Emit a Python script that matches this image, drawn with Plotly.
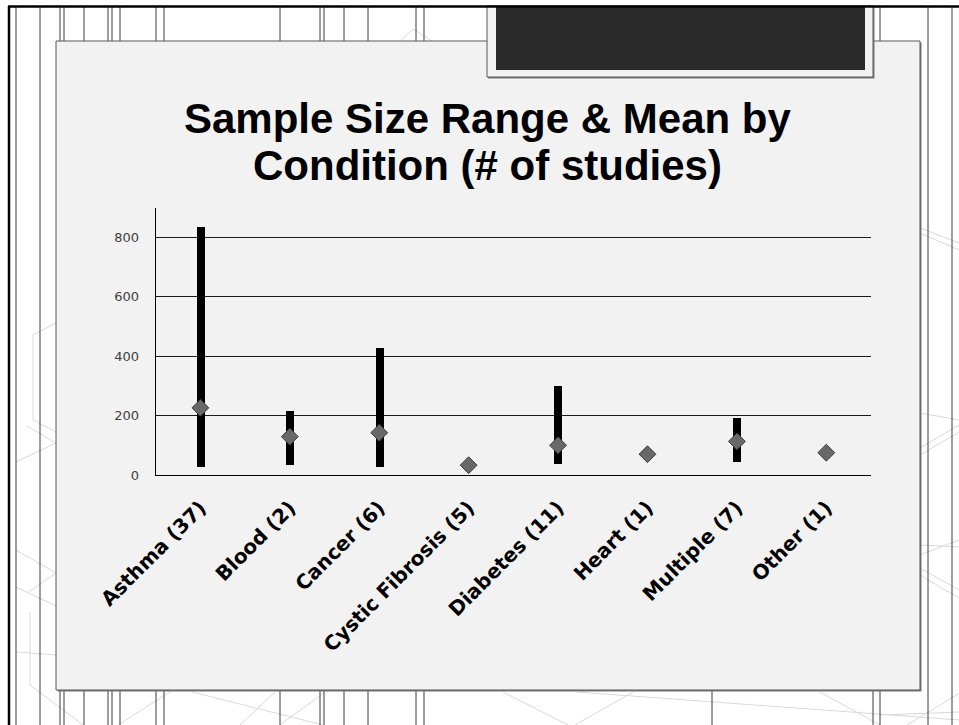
import plotly.graph_objects as go

# ---- data -------------------------------------------------------------
categories = ["Asthma (37)", "Blood (2)", "Cancer (6)", "Cystic Fibrosis (5)",
              "Diabetes (11)", "Heart (1)", "Multiple (7)", "Other (1)"]
range_min = [29, 37, 29, None, 38, None, 46, None]
range_max = [835, 218, 429, None, 303, None, 195, None]
mean_size = [227, 130, 143, 34, 101, 71, 114, 76]
y_ticks = [0, 200, 400, 600, 800]

# ---- page geometry (pixels -> paper fractions) ------------------------
W, H = 959, 725


def fx(px):
    return px / W


def fy(py):
    return 1 - py / H


def line(x0, y0, x1, y1, color, width=1):
    return dict(type="line", xref="paper", yref="paper", layer="below",
                x0=fx(x0), y0=fy(y0), x1=fx(x1), y1=fy(y1),
                line=dict(color=color, width=width))


def rect(x0, y0, x1, y1, fill, edge=None, width=1):
    return dict(type="rect", xref="paper", yref="paper", layer="below",
                x0=fx(x0), y0=fy(y0), x1=fx(x1), y1=fy(y1),
                fillcolor=fill,
                line=dict(color=edge or fill, width=width if edge else 0))


shapes = []

# faint decorative strokes of the slide background
faint = [
    (56, 323, 33, 335), (33, 335, 33, 420), (33, 420, 56, 432),
    (16, 462, 56, 443), (27, 426, 56, 443), (16, 550, 56, 573),
    (27, 593, 56, 573), (16, 587, 56, 606), (16, 652, 56, 655),
    (30, 612, 30, 685), (30, 685, 83, 725), (118, 725, 173, 690),
    (192, 692, 323, 725), (240, 725, 277, 690), (280, 725, 325, 692),
    (503, 692, 568, 725), (575, 725, 633, 692), (577, 692, 960, 720),
    (820, 692, 880, 725), (907, 725, 960, 693),
    (920, 228, 959, 243), (920, 233, 959, 250), (920, 413, 959, 420),
    (920, 448, 959, 425), (920, 455, 959, 432), (920, 545, 959, 547),
    (920, 555, 959, 540), (920, 568, 959, 590), (920, 575, 959, 598),
    (880, 715, 959, 712), (400, 41, 413, 29), (413, 29, 432, 41),
]
for seg in faint:
    shapes.append(line(*seg, color="#d9d9d9"))

# thin vertical rules
for x in [16, 40, 928, 952]:
    shapes.append(line(x, 6, x, 725, "#3a3a3a"))
for x in [60, 64, 84, 108, 112, 120, 156, 164, 280, 320, 324, 344, 368,
          416, 424, 712, 873, 880]:
    shapes.append(line(x, 6, x, 725, "#3a3a3a"))

# content panel with its shadow
shapes.append(rect(57.5, 42.5, 921.5, 691.5, "#7a7a7a"))
shapes.append(rect(56, 41, 920, 690, "#f2f2f2", "#595959", 1))

# title placeholder block at the top
shapes.append(rect(488, 6, 874.5, 78.5, "#7a7a7a"))
shapes.append(rect(487, 6, 873, 77, "#f2f2f2", "#595959", 1))
shapes.append(rect(496, 6, 865, 70, "#2a2a2a"))

# slide edges
shapes.append(line(8, 6.5, 959, 6.5, "#000000", 2.5))
shapes.append(line(9, 6, 9, 725, "#000000", 2.5))

# ---- traces -------------------------------------------------------------
bar_base = [lo if lo is not None else 0 for lo in range_min]
bar_len = [(hi - lo) if (hi is not None and lo is not None) else 0
           for lo, hi in zip(range_min, range_max)]

fig = go.Figure()
fig.add_trace(go.Bar(
    x=categories, y=bar_len, base=bar_base, width=0.09,
    marker=dict(color="#000000", line=dict(width=0)),
    hoverinfo="skip", showlegend=False,
))
fig.add_trace(go.Scatter(
    x=categories, y=mean_size, mode="markers",
    marker=dict(symbol="diamond", size=13, color="#686868",
                line=dict(color="#404040", width=1)),
    showlegend=False,
))

# ---- title (two lines, tight leading) -------------------------------------
title_font = dict(family="Liberation Sans, Arial, sans-serif", size=42,
                  color="#000000")
annotations = [
    dict(text="<b>Sample Size Range & Mean by</b>", xref="paper", yref="paper",
         x=fx(487.5), y=fy(118), xanchor="center", yanchor="middle",
         showarrow=False, font=title_font),
    dict(text="<b>Condition (# of studies)</b>", xref="paper", yref="paper",
         x=fx(487.5), y=fy(165), xanchor="center", yanchor="middle",
         showarrow=False, font=title_font),
]

fig.update_layout(
    width=W, height=H,
    margin=dict(l=0, r=0, t=0, b=0, autoexpand=False),
    paper_bgcolor="#ffffff",
    plot_bgcolor="rgba(0,0,0,0)",
    shapes=shapes,
    annotations=annotations,
    bargap=0,
    showlegend=False,
    xaxis=dict(
        domain=[fx(155.7), fx(871)],
        type="category", automargin=False,
        showgrid=False, zeroline=False,
        showline=True, linecolor="#000000", linewidth=1,
        ticks="", tickangle=-45, ticklabelstandoff=12,
        tickfont=dict(family="DejaVu Sans", size=20, color="#000000",
                      weight="bold"),
    ),
    yaxis=dict(
        domain=[fy(475.3), fy(207.7)],
        range=[0, 900], automargin=False,
        tickvals=y_ticks,
        showgrid=True, gridcolor="#1a1a1a", gridwidth=1,
        zeroline=False,
        showline=True, linecolor="#000000", linewidth=1,
        ticks="", ticklabelstandoff=13,
        tickfont=dict(family="DejaVu Sans", size=13, color="#404040"),
    ),
)

fig.write_html("out.html")
